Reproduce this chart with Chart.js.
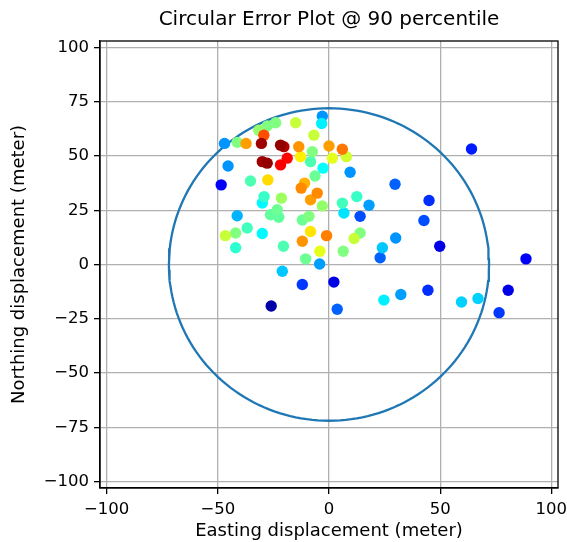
<!DOCTYPE html>
<html lang="en">
<head>
<meta charset="UTF-8">
<title>Circular Error Plot</title>
<script src="https://cdn.jsdelivr.net/npm/chart.js"></script>
<style>
  html, body { margin: 0; padding: 0; background: #fff; }
</style>
</head>
<body>
<canvas id="cepChart" width="567" height="542"></canvas>
<script>
// displacement of each fix (meter) and its point density (0..1, jet colour)
const easting = [
  -3, -3.3, -15, -24, -27.8, -31.6, -29.3, -6.8, -47, -41.3,
  -37.3, -30.4, -21.8, -20.3, -13.6, -7.5, 0, 6, 7.8, 1.5,
  -12.8, -30, -27.8, -21.8, -18.8, -8.3, -2.7, 9.5, -45.4, -48.5,
  -6.3, -35.3, -27.5, -11, -12.5, -5.3, -8.3, -3, -21.4, -29.2,
  -30, 12.5, 6, 6.7, 18, 14, -23.3, -26.3, -22.6, -41.3,
  -12, -9, -46.6, -42, -36.8, -30, -42, -20.5, -8.3, -12,
  -1.1, -4.1, -10.5, -4.2, 11.3, 14, 6.4, -21, -12, 2.2,
  -26, 3.7, 64.1, 29.7, 45, 42.7, 30, 24, 23, 49.8,
  88.6, 24.7, 32.3, 44.5, 59.6, 67, 80.6, 76.5
];
const northing = [
  68.3, 65, 65.3, 65.3, 63.8, 61.9, 59.6, 59.6, 55.8, 56.3,
  55.8, 55.8, 55, 54.3, 54.3, 52, 54.6, 53.1, 49.7, 49,
  49.7, 47.4, 46.7, 45.9, 49, 47.4, 44.4, 42.5, 45.4, 36.7,
  40.8, 38.5, 39, 37.5, 35.2, 32.9, 29.8, 27, 30.6, 31.3,
  28.3, 31.3, 28.3, 23.7, 27.3, 22.2, 25.2, 22.9, 21.8, 22.5,
  20.5, 22.2, 13.3, 14.5, 16.8, 14.3, 7.7, 8.4, 15.2, 10.7,
  13.3, 6.1, 2.6, 0.2, 12, 14.5, 6.1, -3.1, -9.2, -8.1,
  -19.1, -20.6, 53.2, 37, 29.5, 20.3, 12.2, 7.7, 3.1, 8.4,
  2.6, -16.4, -13.8, -11.9, -17.3, -15.7, -11.9, -22.2
];
const density = [
  0.27, 0.36, 0.57, 0.5, 0.5, 0.52, 0.8, 0.57, 0.27, 0.5,
  0.72, 0.97, 0.98, 0.95, 0.73, 0.5, 0.72, 0.76, 0.58, 0.6,
  0.64, 0.97, 0.98, 0.88, 0.87, 0.45, 0.38, 0.27, 0.27, 0.12,
  0.48, 0.45, 0.66, 0.7, 0.74, 0.74, 0.72, 0.52, 0.53, 0.43,
  0.37, 0.43, 0.44, 0.35, 0.28, 0.2, 0.48, 0.47, 0.47, 0.3,
  0.48, 0.5, 0.57, 0.5, 0.44, 0.37, 0.42, 0.45, 0.65, 0.73,
  0.75, 0.6, 0.48, 0.28, 0.57, 0.5, 0.5, 0.32, 0.18, 0.1,
  0.04, 0.22, 0.15, 0.22, 0.17, 0.2, 0.27, 0.32, 0.22, 0.1,
  0.12, 0.36, 0.28, 0.17, 0.33, 0.33, 0.1, 0.18
];
const cepRadius = 72;
const xTicks = [-100, -50, 0, 50, 100];
const yTicks = [-100, -75, -50, -25, 0, 25, 50, 75, 100];

function clamp(v) { return Math.max(0, Math.min(1, v)); }
function jet(v) {
  const r = clamp(1.5 - Math.abs(4 * v - 3));
  const g = clamp(1.5 - Math.abs(4 * v - 2));
  const b = clamp(1.5 - Math.abs(4 * v - 1));
  return `rgb(${Math.round(r * 255)}, ${Math.round(g * 255)}, ${Math.round(b * 255)})`;
}

// densest points drawn last
const order = density.map((d, i) => i).sort((a, b) => density[a] - density[b]);
const points = order.map(i => ({ x: easting[i], y: northing[i] }));
const colors = order.map(i => jet(density[i]));

const circle = [];
for (let a = 0; a <= 360; a += 2) {
  const t = a * Math.PI / 180;
  circle.push({ x: cepRadius * Math.cos(t), y: cepRadius * Math.sin(t) });
}

const fmt = v => v < 0 ? '\u2212' + Math.abs(v) : String(v);
const tickFont = { family: 'DejaVu Sans', size: 16.5 };
const labelFont = { family: 'DejaVu Sans', size: 18 };

const frame = {
  id: 'frame',
  afterDraw(chart) {
    const { ctx, chartArea: a } = chart;
    ctx.save();
    ctx.strokeStyle = '#000';
    ctx.lineWidth = 1.3;
    ctx.strokeRect(a.left, a.top, a.right - a.left, a.bottom - a.top);
    ctx.restore();
  }
};

new Chart(document.getElementById('cepChart'), {
  type: 'scatter',
  data: {
    datasets: [{
      data: points,
      pointRadius: 5.7,
      pointHoverRadius: 5.7,
      borderWidth: 0,
      pointBackgroundColor: colors,
      order: 1
    }, {
      type: 'line',
      data: circle,
      borderColor: '#1f77b4',
      borderWidth: 2.3,
      pointRadius: 0,
      fill: false,
      tension: 0,
      order: 2
    }]
  },
  options: {
    responsive: false,
    animation: false,
    layout: { padding: { left: 0, right: 9, top: 0, bottom: 0 } },
    plugins: {
      legend: { display: false },
      tooltip: { enabled: false },
      title: {
        display: true,
        fullSize: false,
        text: 'Circular Error Plot @ 90 percentile',
        color: '#000',
        font: { family: 'DejaVu Sans', size: 20, weight: 'normal' },
        padding: { top: 8, bottom: 9 }
      }
    },
    scales: {
      x: {
        type: 'linear',
        min: -103,
        max: 103,
        z: 1,
        afterBuildTicks: s => { s.ticks = xTicks.map(v => ({ value: v })); },
        afterFit: s => { s.height = 54; s.paddingLeft = 0; s.paddingRight = 0; },
        grid: { color: '#b0b0b0', lineWidth: 1.3, tickLength: 6, tickColor: '#000', tickWidth: 1.3 },
        border: { color: '#000', width: 1.3 },
        ticks: { font: tickFont, color: '#000', padding: 6, maxRotation: 0, callback: fmt },
        title: { display: true, text: 'Easting displacement (meter)', color: '#000', font: labelFont, padding: 0 }
      },
      y: {
        type: 'linear',
        min: -103,
        max: 103,
        z: 1,
        afterBuildTicks: s => { s.ticks = yTicks.map(v => ({ value: v })); },
        afterFit: s => { s.width = 100; s.paddingTop = 0; s.paddingBottom = 0; },
        grid: { color: '#b0b0b0', lineWidth: 1.3, tickLength: 6, tickColor: '#000', tickWidth: 1.3 },
        border: { color: '#000', width: 1.3 },
        ticks: { font: tickFont, color: '#000', padding: 5, callback: fmt },
        title: { display: true, text: 'Northing displacement (meter)', color: '#000', font: labelFont, padding: { top: 9, bottom: 0 } }
      }
    }
  },
  plugins: [frame]
});
</script>
</body>
</html>
